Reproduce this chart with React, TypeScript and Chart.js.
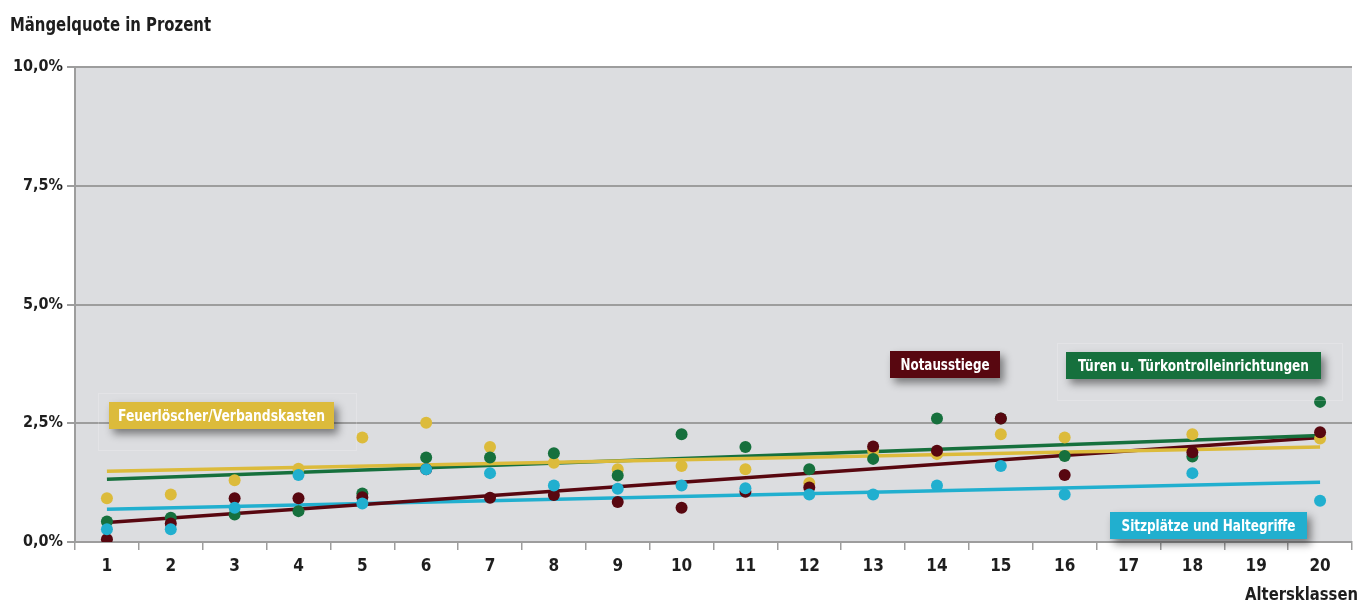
import React, { useEffect, useRef } from "react";
import { Chart, registerables } from "chart.js";

Chart.register(...registerables);

const categories = ["1","2","3","4","5","6","7","8","9","10","11","12","13","14","15","16","17","18","19","20"];
const yTickLabels = ["0,0%", "2,5%", "5,0%", "7,5%", "10,0%"];

const feuerloescher = [0.92, 1.0, 1.3, 1.54, 2.2, 2.51, 2.0, 1.67, 1.53, 1.6, 1.53, 1.24, 1.92, 1.85, 2.27, 2.2, null, 2.27, null, 2.18];
const tueren = [0.43, 0.51, 0.58, 0.65, 1.02, 1.78, 1.78, 1.87, 1.4, 2.27, 2.0, 1.53, 1.75, 2.6, 2.6, 1.81, null, 1.8, null, 2.95];
const notausstiege = [0.06, 0.39, 0.92, 0.92, 0.94, 1.53, 0.93, 0.99, 0.84, 0.72, 1.06, 1.15, 2.01, 1.92, 2.6, 1.41, null, 1.89, null, 2.31];
const sitzplaetze = [0.27, 0.27, 0.72, 1.41, 0.81, 1.53, 1.45, 1.19, 1.12, 1.19, 1.13, 1.0, 1.0, 1.19, 1.6, 1.0, null, 1.45, null, 0.87];

// trend lines: start (class 1) and end (class 20)
const trendFeuer = [1.49, 2.0];
const trendTueren = [1.32, 2.24];
const trendNotaus = [0.41, 2.2];
const trendSitz = [0.69, 1.26];

const C_YELLOW = "#dcbb3b";
const C_GREEN = "#16703d";
const C_RED = "#580710";
const C_CYAN = "#21afcf";
const FONT = "'Liberation Sans Narrow', 'DejaVu Sans Condensed', 'Arial Narrow', sans-serif";

function trend(se: number[]) {
  const arr: (number | null)[] = categories.map(() => null);
  arr[0] = se[0];
  arr[categories.length - 1] = se[1];
  return arr;
}

const labelBoxes = [
  { text: "Feuerlöscher/Verbandskasten", color: C_YELLOW, x: 109, y: 402, w: 225, h: 27, tw: 207, frame: [98, 393, 258, 57] },
  { text: "Notausstiege", color: C_RED, x: 890, y: 351, w: 110, h: 27, tw: 89, frame: null },
  { text: "Türen u. Türkontrolleinrichtungen", color: C_GREEN, x: 1066, y: 352, w: 255, h: 27, tw: 231, frame: [1057, 343, 285, 57] },
  { text: "Sitzplätze und Haltegriffe", color: C_CYAN, x: 1110, y: 512, w: 197, h: 27, tw: 174, frame: null },
];

function condensedText(ctx: CanvasRenderingContext2D, text: string, x: number, y: number, targetW: number, align: "left" | "center" | "right") {
  const m = ctx.measureText(text).width;
  const sx = Math.min(1, targetW / m);
  ctx.save();
  ctx.translate(x, y);
  ctx.scale(sx, 1);
  ctx.textAlign = align;
  ctx.fillText(text, 0, 0);
  ctx.restore();
}

const decorPlugin = {
  id: "decor",
  beforeDraw(chart: any) {
    const { ctx, chartArea } = chart;
    ctx.save();
    ctx.fillStyle = "#ffffff";
    ctx.fillRect(0, 0, chart.width, chart.height);
    ctx.fillStyle = "#dcdde0";
    ctx.fillRect(chartArea.left, chartArea.top, chartArea.right - chartArea.left, chartArea.bottom - chartArea.top);
    ctx.restore();
  },
  afterDraw(chart: any) {
    const { ctx } = chart;
    ctx.save();
    ctx.fillStyle = "#1e1e1e";
    ctx.textBaseline = "alphabetic";
    ctx.font = `bold 19px ${FONT}`;
    condensedText(ctx, "Mängelquote in Prozent", 10, 31, 201, "left");
    ctx.font = `bold 18px ${FONT}`;
    condensedText(ctx, "Altersklassen", 1358, 600, 113, "right");

    for (const b of labelBoxes) {
      if (b.frame) {
        ctx.strokeStyle = "rgba(255,255,255,0.2)";
        ctx.lineWidth = 1;
        ctx.strokeRect(b.frame[0] + 0.5, b.frame[1] + 0.5, b.frame[2], b.frame[3]);
      }
      ctx.save();
      ctx.shadowColor = "rgba(0,0,0,0.45)";
      ctx.shadowBlur = 8;
      ctx.shadowOffsetX = 4;
      ctx.shadowOffsetY = 5;
      ctx.fillStyle = b.color;
      ctx.fillRect(b.x, b.y, b.w, b.h);
      ctx.restore();
      ctx.fillStyle = "#ffffff";
      ctx.font = `bold 16px ${FONT}`;
      ctx.textBaseline = "middle";
      condensedText(ctx, b.text, b.x + b.w / 2, b.y + b.h / 2 + 1, b.tw, "center");
    }
    ctx.restore();
  },
};

export default function App() {
  const ref = useRef<HTMLCanvasElement>(null);
  useEffect(() => {
    if (!ref.current) return;
    const pointDs = (label: string, data: any[], color: string, order: number) => ({
      type: "line" as const,
      label,
      data,
      showLine: false,
      pointRadius: 6,
      pointHoverRadius: 6,
      pointBackgroundColor: color,
      pointBorderWidth: 0,
      borderColor: color,
      backgroundColor: color,
      order,
    });
    const lineDs = (label: string, data: any[], color: string, order: number) => ({
      type: "line" as const,
      label,
      data,
      spanGaps: true,
      pointRadius: 0,
      borderColor: color,
      borderWidth: 3.5,
      fill: false,
      order,
    });
    const chart = new Chart(ref.current, {
      type: "line",
      data: {
        labels: categories,
        datasets: [
          lineDs("Trend Sitzplätze", trend(trendSitz), C_CYAN, 10),
          lineDs("Trend Notausstiege", trend(trendNotaus), C_RED, 9),
          lineDs("Trend Türen", trend(trendTueren), C_GREEN, 8),
          lineDs("Trend Feuerlöscher", trend(trendFeuer), C_YELLOW, 7),
          pointDs("Feuerlöscher/Verbandskasten", feuerloescher, C_YELLOW, 4),
          pointDs("Türen u. Türkontrolleinrichtungen", tueren, C_GREEN, 3),
          pointDs("Notausstiege", notausstiege, C_RED, 2),
          pointDs("Sitzplätze und Haltegriffe", sitzplaetze, C_CYAN, 1),
        ],
      },
      options: {
        responsive: false,
        animation: false,
        devicePixelRatio: 1,
        layout: { padding: { top: 67, right: 17, left: 0, bottom: 0 } },
        plugins: { legend: { display: false }, tooltip: { enabled: false }, title: { display: false } },
        scales: {
          x: {
            type: "category",
            offset: true,
            grid: { offset: true, drawOnChartArea: false, drawTicks: true, tickLength: 8, color: "#9d9d9d", lineWidth: 1.5 },
            border: { display: true, color: "#9d9d9d", width: 2 },
            ticks: { color: "#1e1e1e", font: { family: FONT, size: 17, weight: "bold" }, padding: 6, maxRotation: 0, autoSkip: false },
            afterFit(scale: any) { scale.height = 62; },
          },
          y: {
            min: 0,
            max: 10,
            ticks: {
              stepSize: 2.5,
              color: "#1e1e1e",
              font: { family: FONT, size: 16, weight: "bold" },
              padding: 4,
              callback: (_v: any, i: number) => yTickLabels[i],
            },
            grid: { color: "#9d9d9d", lineWidth: 2, tickLength: 8, drawTicks: true },
            border: { display: true, color: "#9d9d9d", width: 2 },
            afterFit(scale: any) { scale.width = 75; },
          },
        },
      },
      plugins: [decorPlugin],
    } as any);
    return () => chart.destroy();
  }, []);
  return (
    <div style={{ position: "absolute", left: 0, top: 0, width: 1369, height: 604 }}>
      <canvas ref={ref} width={1369} height={604} />
    </div>
  );
}
